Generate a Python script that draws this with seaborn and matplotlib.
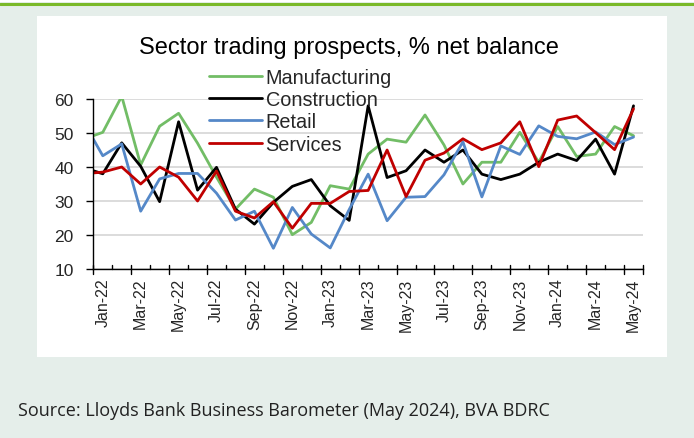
import numpy as np
import pandas as pd
import matplotlib
matplotlib.use("Agg")
import matplotlib.pyplot as plt
from matplotlib.patches import Rectangle
from matplotlib.lines import Line2D
import seaborn as sns

months = ["Dec-21",
          "Jan-22", "Feb-22", "Mar-22", "Apr-22", "May-22", "Jun-22", "Jul-22", "Aug-22",
          "Sep-22", "Oct-22", "Nov-22", "Dec-22",
          "Jan-23", "Feb-23", "Mar-23", "Apr-23", "May-23", "Jun-23", "Jul-23", "Aug-23",
          "Sep-23", "Oct-23", "Nov-23", "Dec-23",
          "Jan-24", "Feb-24", "Mar-24", "Apr-24", "May-24"]

manufacturing = [48.2, 50.2, 60.8, 40.6, 52.0, 55.8, 47.0, 37.0, 27.6, 33.5, 31.1, 20.1, 23.7,
                 34.5, 33.5, 43.8, 48.2, 47.3, 55.3, 46.5, 35.0, 41.4, 41.4, 50.2, 41.4,
                 51.9, 43.1, 43.8, 51.9, 49.2]
construction = [39.8, 38.0, 47.1, 40.2, 29.8, 53.3, 33.2, 39.9, 27.6, 23.2, 29.6, 34.3, 36.3,
                28.6, 24.3, 58.0, 36.9, 38.9, 45.0, 41.4, 45.0, 37.9, 36.3, 37.9, 41.4,
                43.8, 41.9, 48.2, 37.9, 58.0]
retail = [53.1, 43.3, 46.8, 27.0, 36.5, 38.1, 38.1, 32.3, 24.4, 27.0, 16.1, 28.1, 20.3,
          16.2, 27.5, 37.9, 24.2, 31.1, 31.3, 37.7, 47.4, 31.2, 46.2, 43.7, 52.1,
          49.0, 48.3, 50.3, 46.6, 48.8]
services = [38.0, 38.5, 40.0, 35.0, 40.0, 37.0, 30.0, 38.8, 27.0, 25.0, 29.8, 22.0, 29.3,
            29.3, 32.8, 33.1, 45.0, 31.3, 42.0, 44.1, 48.3, 45.1, 47.1, 53.3, 40.1,
            53.8, 55.0, 50.1, 45.1, 57.1]

sectors = ["Manufacturing", "Construction", "Retail", "Services"]
colors = {"Manufacturing": "#72bd66", "Construction": "#000000",
          "Retail": "#5588c8", "Services": "#c00000"}
yticks = [10, 20, 30, 40, 50, 60]

pos = np.arange(len(months)) - 1
series = {"Manufacturing": manufacturing, "Construction": construction,
          "Retail": retail, "Services": services}
df = pd.concat([pd.DataFrame({"pos": pos, "month": months, "value": v, "sector": k})
                for k, v in series.items()], ignore_index=True)

sns.set_theme(style="white")
plt.rcParams["font.family"] = ["Liberation Sans", "DejaVu Sans"]

W, H = 694, 439
fig = plt.figure(figsize=(W / 100, H / 100), dpi=100)
fig.patch.set_facecolor("#e5eeea")

def fx(x):
    return x / W

def fy(y):
    return 1 - y / H

# top strip and green rule
fig.add_artist(Rectangle((0, fy(3)), 1, 3 / H, transform=fig.transFigure,
                         facecolor="white", edgecolor="none", zorder=0))
fig.add_artist(Line2D([0, 1], [fy(4.5), fy(4.5)], transform=fig.transFigure,
                      color="#7ab929", linewidth=2.2, zorder=1))
# white chart panel
fig.add_artist(Rectangle((fx(37), fy(358)), fx(667 - 37), (358 - 17) / H,
                         transform=fig.transFigure, facecolor="white",
                         edgecolor="none", zorder=0))

left, right, top, bottom = 93.3, 643, 100, 270
ax = fig.add_axes([fx(left), fy(bottom), fx(right - left), (bottom - top) / H])
ax.set_facecolor("none")

sns.lineplot(data=df, x="pos", y="value", hue="sector", hue_order=sectors,
             palette=colors, linewidth=2.0, ax=ax)

ax.set_xlim(-0.5, 28.5)
ax.set_ylim(10, 60)
ax.set_yticks(yticks)
ax.set_yticklabels([str(t) for t in yticks], fontsize=12.5)
ax.yaxis.grid(True, color="#d9d9d9", linewidth=1.3)
ax.set_axisbelow(True)

label_pos = pos[1::2]
ax.set_xticks(label_pos)
ax.set_xticklabels(months[1::2], rotation=90, fontsize=11.5)
ax.tick_params(axis="x", which="major", length=0, pad=6)
# category boundary ticks (major ones cross the axis, minor ones point inward)
xt = ax.get_xaxis_transform()
hpx = bottom - top
for k in range(30):
    xb = -0.5 + k
    big = (k % 2 == 0) or k == 29
    y0 = -4.5 / hpx if big else 0
    y1 = 4.3 / hpx
    ax.plot([xb, xb], [y0, y1], transform=xt, color="black", linewidth=1.0,
            clip_on=False, zorder=5)
ax.tick_params(axis="y", which="major", direction="out", length=5, width=1.0,
               color="black", pad=9, left=True)

for s in ["top", "right"]:
    ax.spines[s].set_visible(False)
for s in ["left", "bottom"]:
    ax.spines[s].set_color("black")
    ax.spines[s].set_linewidth(1.0)
ax.set_xlabel("")
ax.set_ylabel("")

handles, labels = ax.get_legend_handles_labels()
leg = ax.legend(handles, labels, loc="upper left",
                bbox_to_anchor=(fx(209), fy(69)), bbox_transform=fig.transFigure,
                frameon=False, fontsize=14.3, handlelength=2.65, handletextpad=0.2,
                labelspacing=0.16, borderpad=0, borderaxespad=0)
for lh in leg.get_lines():
    lh.set_linewidth(2.0)

fig.text(fx(349), fy(48), "Sector trading prospects, % net balance",
         ha="center", va="center", fontsize=17, color="black")

fig.text(fx(18), fy(411), "Source: Lloyds Bank Business Barometer (May 2024), BVA BDRC",
         ha="left", va="center", fontsize=13, color="#222222",
         family=["Open Sans", "DejaVu Sans"])

fig.savefig("out.png", dpi=100, facecolor=fig.get_facecolor())
